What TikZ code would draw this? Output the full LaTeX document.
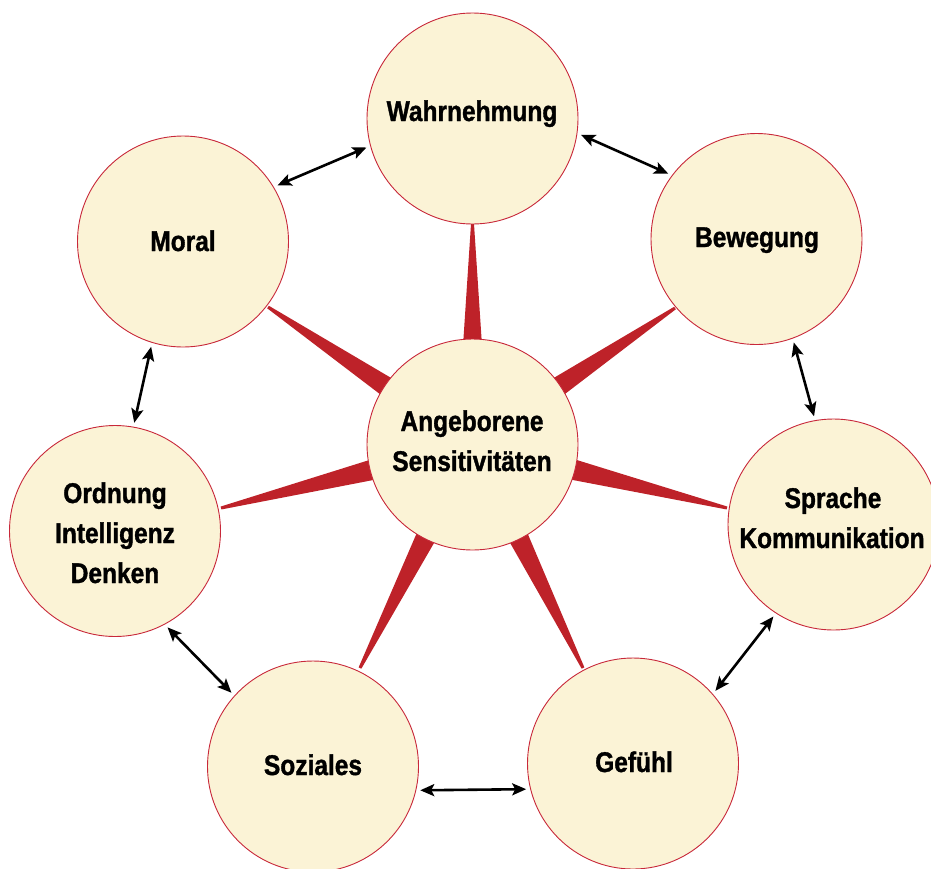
\documentclass[tikz,border=0pt]{standalone}
\usepackage{fontspec}
\setmainfont{Liberation Sans}[FakeStretch=0.86, BoldFeatures={FakeBold=1.2}]
\usetikzlibrary{arrows.meta,calc}
\definecolor{cream}{HTML}{FBF3D6}
\definecolor{rimred}{HTML}{C8283A}
\definecolor{spikered}{HTML}{BE2229}
\begin{document}
\begin{tikzpicture}[x=1pt,y=-1pt,
  bub/.style={circle, draw=rimred, line width=0.9pt, fill=cream, minimum size=211pt, inner sep=0pt},
  lbl/.style={anchor=base, inner sep=0pt, font=\fontsize{28.5}{34}\selectfont\bfseries},
  arr/.style={{Stealth[length=14pt,width=12pt,inset=3pt]}-{Stealth[length=14pt,width=12pt,inset=3pt]}, line width=2.6pt, shorten <=4pt, shorten >=4pt},
  spk/.style={fill=spikered}]
\useasboundingbox (0,0) rectangle (931,868);
\clip (0,0) rectangle (931,868);
% spike tips
\coordinate (c) at (472.5,444.5);
\coordinate (tW) at (472.5,224);
\coordinate (tB) at (675,308);
\coordinate (tM) at (268,307);
\coordinate (tO) at (221,508);
\coordinate (tS) at (727,508);
\coordinate (tSz) at (360,668);
\coordinate (tG) at (583,668);
\foreach \t in {tW,tB,tM,tO,tS,tSz,tG}{
  \fill[spk] ($(c)!16pt!90:(\t)$) -- ($(\t)!1.5pt!-90:(c)$) -- ($(\t)!1.5pt!90:(c)$) -- ($(c)!16pt!-90:(\t)$) -- cycle;
}
% circles
\node[bub] (ctr) at (472.5,444.5) {};
\node[bub] (wahr) at (472.5,118.5) {};
\node[bub] (moral) at (183,241.5) {};
\node[bub] (bew) at (756.5,239) {};
\node[bub] (spr) at (833.5,524.5) {};
\node[bub] (ord) at (115,531) {};
\node[bub] (soz) at (313,766.5) {};
\node[bub] (gef) at (633,763.5) {};
% labels
\node[lbl] (ctrA) at (472,431) {Angeborene};
\node[lbl] (ctrB) at (472,471) {Sensitivitäten};
\node[lbl] (wahrT) at (472,121) {Wahrnehmung};
\node[lbl] (moralT) at (183,251) {Moral};
\node[lbl] (bewT) at (757,247) {Bewegung};
\node[lbl] (sprA) at (833,508) {Sprache};
\node[lbl] (sprB) at (832,548) {Kommunikation};
\node[lbl] (ordA) at (115,503) {Ordnung};
\node[lbl] (ordB) at (115,543) {Intelligenz};
\node[lbl] (ordC) at (115,583) {Denken};
\node[lbl] (sozT) at (313,775) {Soziales};
\node[lbl] (gefT) at (634,772) {Gefühl};
% arrows
\draw[arr] (moral.31) -- (wahr.195.6);
\draw[arr] (wahr.352.5) -- (bew.143.5);
\draw[arr] (bew.290.5) -- (spr.100.3);
\draw[arr] (spr.237) -- (gef.41.9);
\draw[arr] (gef.194.5) -- (soz.347);
\draw[arr] (soz.138.9) -- (ord.298);
\draw[arr] (ord.80.6) -- (moral.253.6);
\end{tikzpicture}
\end{document}
